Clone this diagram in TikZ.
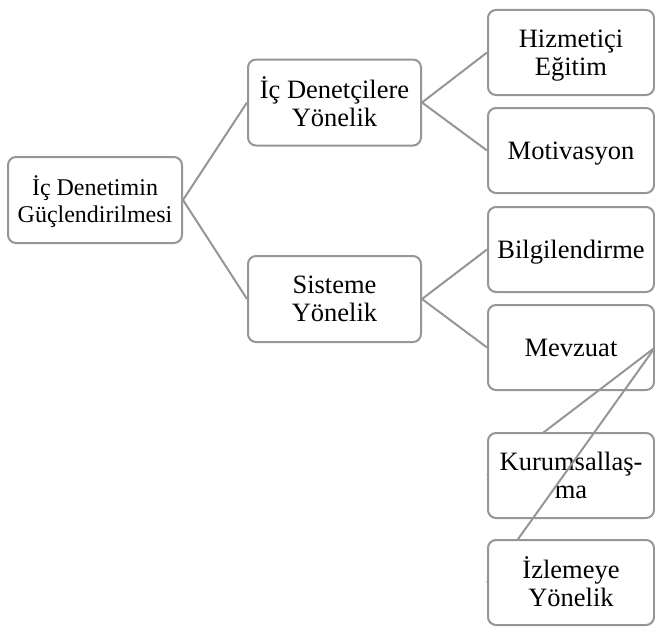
\documentclass[tikz,border=0pt]{standalone}
\usepackage{fontspec}
\setmainfont{Liberation Serif}
\definecolor{edgegray}{RGB}{150,150,150}
\pgfdeclarelayer{base}
\pgfdeclarelayer{under}
\pgfdeclarelayer{over}
\pgfdeclarelayer{top}
\pgfsetlayers{base,under,main,over,top}
% centred lines, set a little below the box centre
\newcommand{\boxtext}[1]{\raisebox{-3pt}[\height][\depth]{\begin{tabular}{@{}c@{}}#1\end{tabular}}}
\begin{document}
\begin{tikzpicture}[x=1pt,y=-1pt,
  box/.style={draw=edgegray, line width=2pt, rounded corners=8pt, fill=white,
    inner sep=0pt, font=\fontsize{26.5}{28}\selectfont},
  rootbox/.style={box, minimum width=174pt, minimum height=86pt,
    font=\fontsize{24}{27}\selectfont},
  midbox/.style={box, minimum width=173pt, minimum height=86pt},
  leafbox/.style={box, minimum width=166pt, minimum height=85pt},
  link/.style={draw=edgegray, line width=2pt}]
\useasboundingbox (0,0) rectangle (655,626);

% tree boxes
\node[rootbox] (root) at (95,200) {\boxtext{İç Denetimin\\Güçlendirilmesi}};
\node[midbox] (ic) at (334.5,102.5) {\boxtext{İç Denetçilere\\Yönelik}};
\node[midbox] (sis) at (334.5,299) {\boxtext{Sisteme\\Yönelik}};
\node[leafbox] (hiz) at (571,52.5) {\boxtext{Hizmetiçi\\Eğitim}};
\node[leafbox] (mot) at (571,150.5) {\boxtext{Motivasyon}};
\node[leafbox] (bil) at (571,249.5) {\boxtext{Bilgilendirme}};
\begin{pgfonlayer}{base}
\node[leafbox] (mev) at (571,347.5) {\boxtext{Mevzuat}};
\end{pgfonlayer}
\node[leafbox] (kur) at (571,475.5) {\boxtext{Kurumsallaş-\\ma}};
\begin{pgfonlayer}{top}
\node[leafbox] (izl) at (571,582.5) {\boxtext{İzlemeye\\Yönelik}};
\end{pgfonlayer}

% connectors
\draw[link] (root.east) -- (ic.west);
\draw[link] (root.east) -- (sis.west);
\draw[link] (ic.east) -- (hiz.west);
\draw[link] (ic.east) -- (mot.west);
\draw[link] (sis.east) -- (bil.west);
\draw[link] (sis.east) -- (mev.west);
\begin{pgfonlayer}{under}
\draw[link] (mev.east) -- (kur.west);
\end{pgfonlayer}
\begin{pgfonlayer}{over}
\draw[link] (mev.east) -- (izl.west);
\end{pgfonlayer}
\end{tikzpicture}
\end{document}
